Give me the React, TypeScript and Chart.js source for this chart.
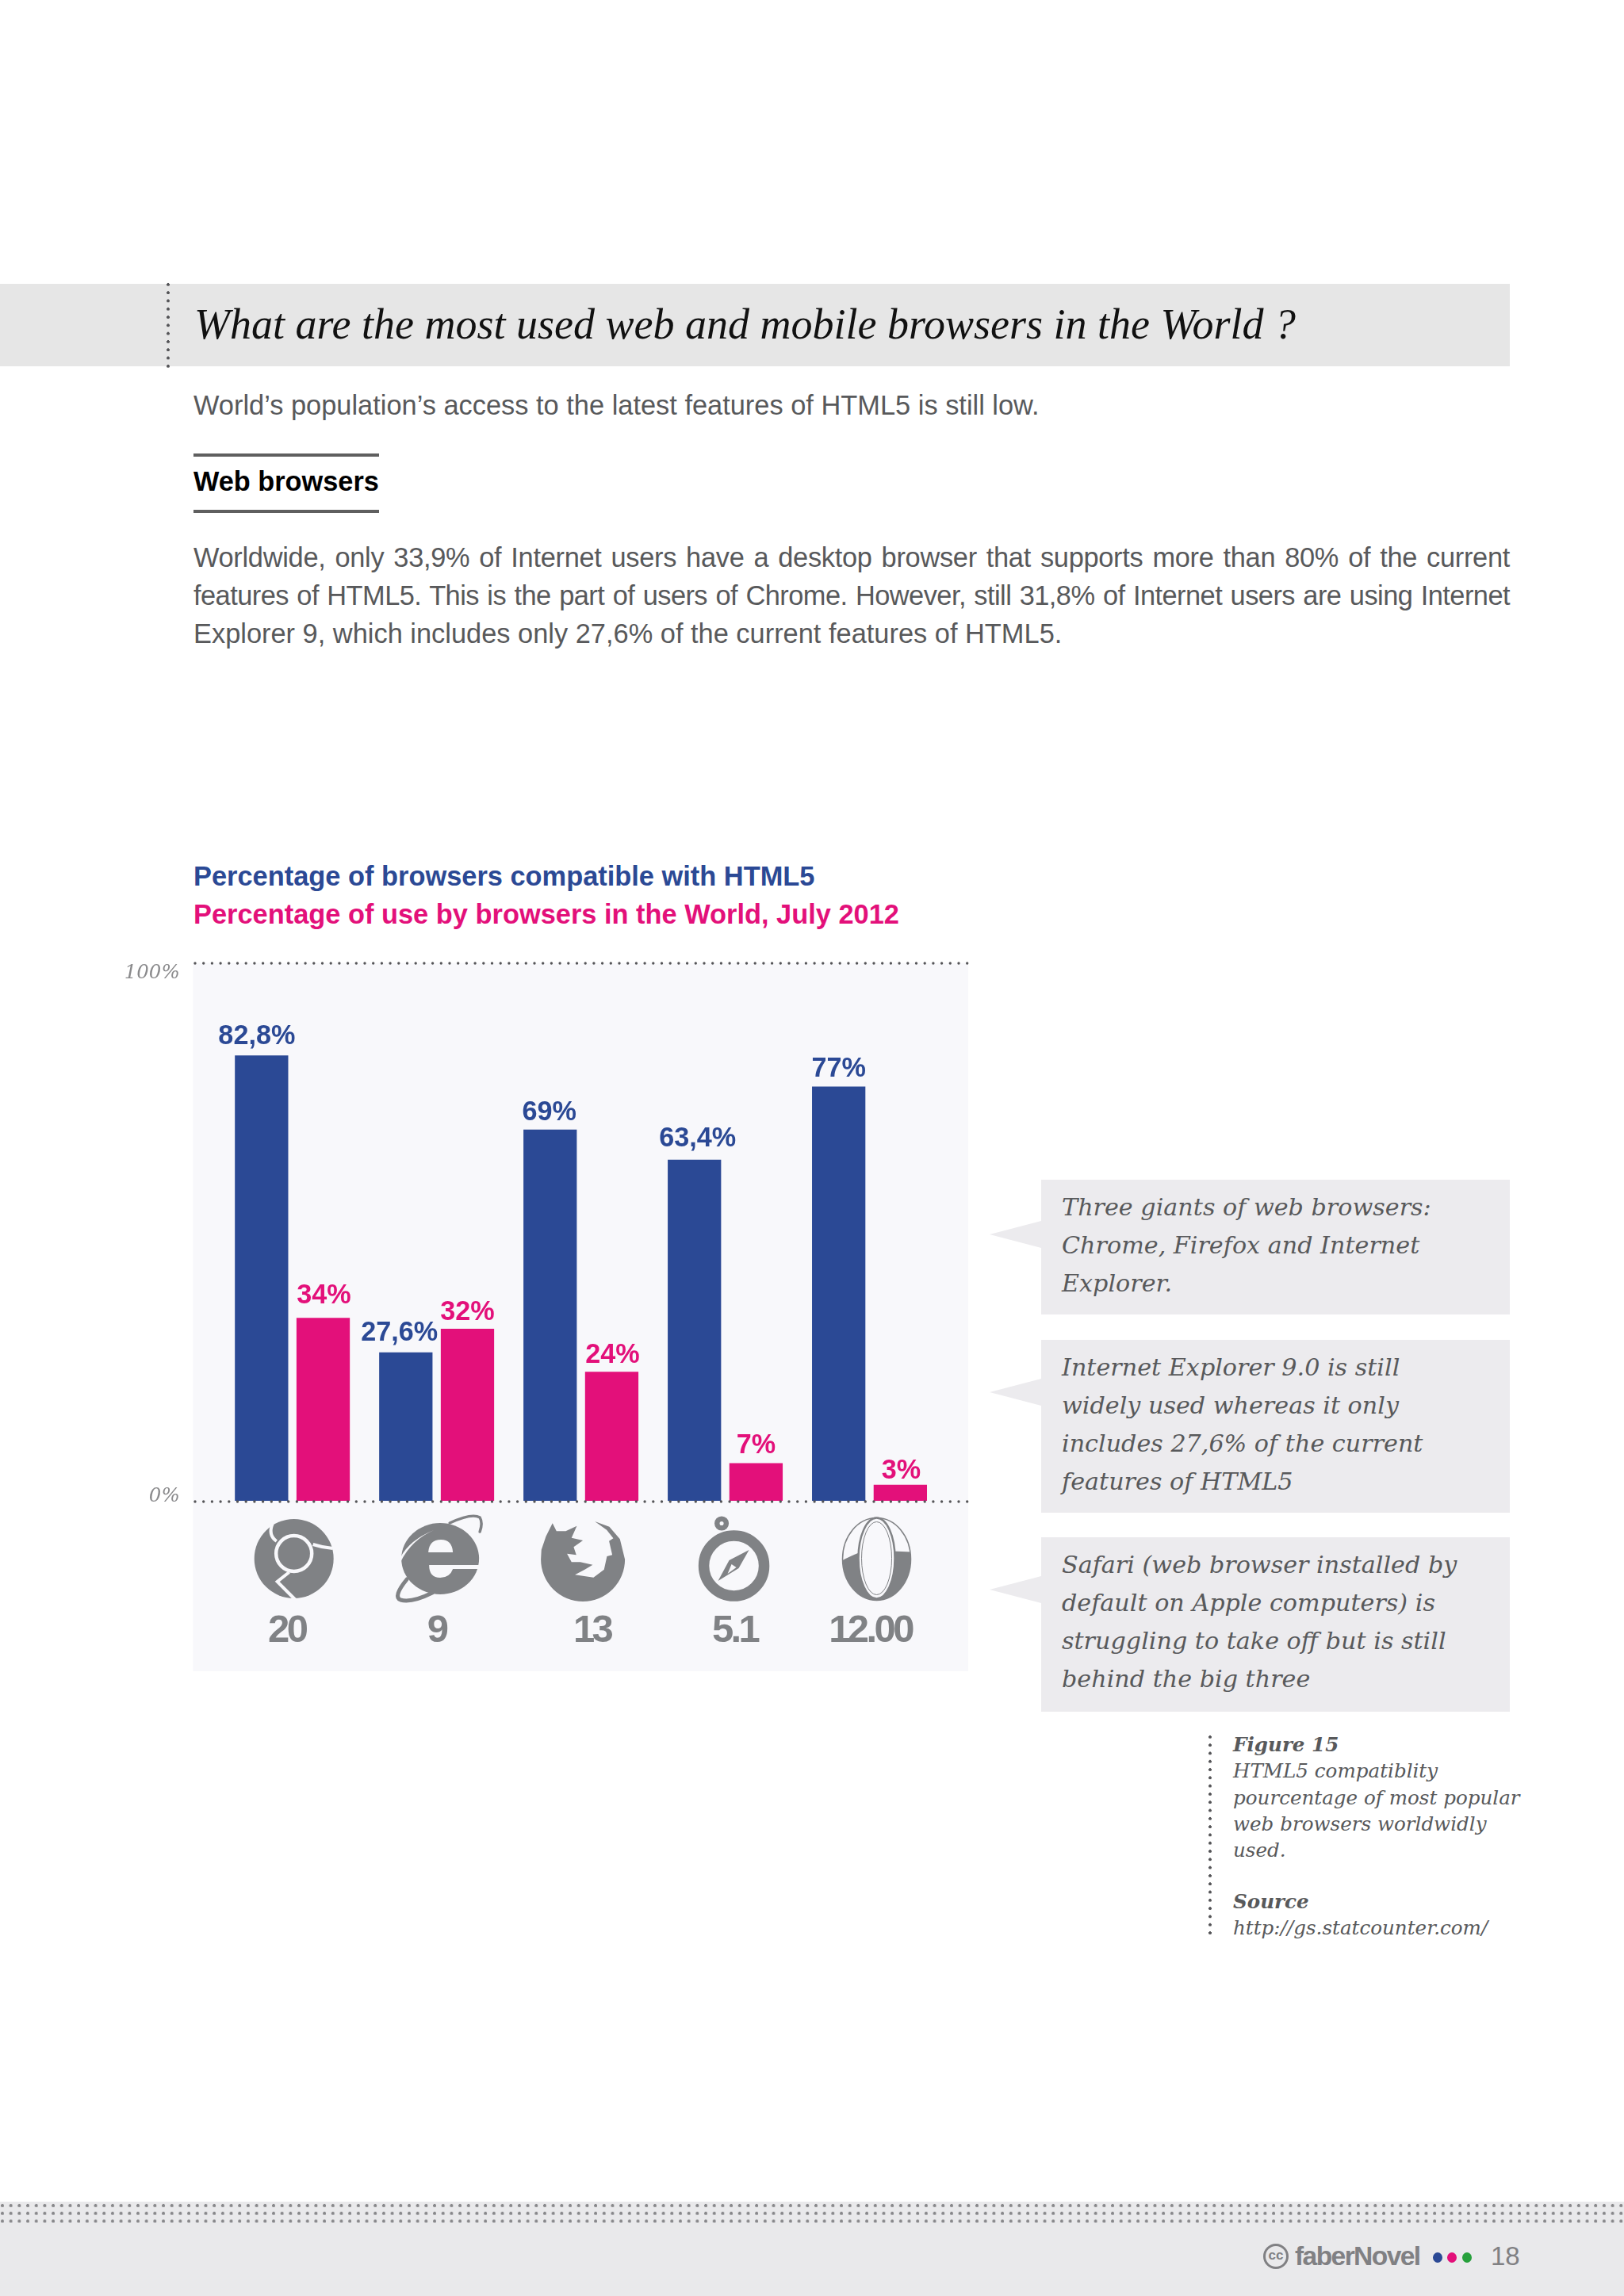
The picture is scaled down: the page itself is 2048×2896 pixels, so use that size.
import React, { useEffect, useRef } from "react";
import { Chart, registerables, CategoryScale } from "chart.js";

const versions = ["20", "9", "13", "5.1", "12.00"];
const browsers = ["Chrome", "Internet Explorer", "Firefox", "Safari", "Opera"];
const html5Support = [82.8, 27.6, 69, 63.4, 77];
const worldUsage = [34, 32, 24, 7, 3];
const html5Labels = ["82,8%", "27,6%", "69%", "63,4%", "77%"];
const usageLabels = ["34%", "32%", "24%", "7%", "3%"];
const legendCompat = "Percentage of browsers compatible with HTML5";
const legendUsage = "Percentage of use by browsers in the World, July 2012";

const BLUE = "#2b4995";
const PINK = "#e3107a";
const GREY = "#808285";
const PANEL = "#f8f8fb";
const BODY = "#58595b";

const versionNudge = [-7, 0, 14, 12, 1];
const html5Nudge = [-6, -8, -1, 4, 0];
const usageNudge = [1, 0, 1, 0, 1];
const html5Lift = [2, 2, 5, 0, 4];
const usageLift = [-2, 6, 5, 4, 9];

class NudgedCategory extends (CategoryScale as any) {
  static id = "nudgedCategory";
  static defaults = (CategoryScale as any).defaults;
  _computeLabelItems(area: any) {
    const items = super._computeLabelItems(area);
    items.forEach((it: any, i: number) => {
      it.options.translation = [it.options.translation[0] + (versionNudge[i] || 0), it.options.translation[1]];
    });
    return items;
  }
  drawLabels(area: any) {
    const c = (this as any).ctx;
    c.save();
    c.letterSpacing = "-3.6px";
    super.drawLabels(area);
    c.restore();
  }
}
Chart.register(...registerables, NudgedCategory as any);

function poly(c: any, pts: number[][], cont = false) {
  pts.forEach((p, i) => (i || cont ? c.lineTo(p[0], p[1]) : c.moveTo(p[0], p[1])));
}

function drawChrome(c: any, x: number, y: number) {
  c.fillStyle = GREY;
  c.beginPath(); c.arc(x, y, 50, 0, Math.PI * 2); c.fill();
  c.strokeStyle = PANEL; c.lineWidth = 4.5;
  c.beginPath(); c.arc(x, y - 6.5, 22.5, 0, Math.PI * 2); c.stroke();
  c.lineWidth = 4;
  c.beginPath(); c.moveTo(x - 22, y - 22); c.quadraticCurveTo(x - 33, y - 30, x - 27, y - 44); c.stroke();
  c.beginPath(); c.moveTo(x + 24, y - 18); c.quadraticCurveTo(x + 36, y - 14, x + 49, y - 13); c.stroke();
  c.beginPath(); c.moveTo(x - 6, y + 17); c.lineTo(x - 21, y + 29); c.lineTo(x + 2, y + 52); c.stroke();
}

function drawIE(c: any, x: number, y: number) {
  c.fillStyle = GREY;
  c.beginPath(); c.ellipse(x, y, 49, 45, 0, 0, Math.PI * 2); c.fill();
  c.fillStyle = PANEL;
  c.beginPath(); c.moveTo(x - 15, y - 8); c.quadraticCurveTo(x - 14, y - 24, x + 1, y - 24);
  c.quadraticCurveTo(x + 15, y - 24, x + 16, y - 8); c.closePath(); c.fill();
  c.beginPath(); c.moveTo(x - 14, y + 8); c.lineTo(x + 50, y + 8); c.lineTo(x + 50, y + 13); c.lineTo(x + 16, y + 13);
  c.quadraticCurveTo(x + 12, y + 24, x, y + 24); c.quadraticCurveTo(x - 14, y + 24, x - 14, y + 8); c.fill();
  c.beginPath(); c.moveTo(x - 8, y - 36); c.quadraticCurveTo(x - 38, y - 24, x - 50, y - 2);
  c.lineTo(x - 50, y + 4); c.quadraticCurveTo(x - 36, y - 24, x - 8, y - 36); c.fill();
  c.strokeStyle = GREY; c.lineWidth = 3.5; c.lineCap = "round";
  c.beginPath(); c.moveTo(x + 12, y - 45); c.quadraticCurveTo(x + 40, y - 58, x + 50, y - 52); c.quadraticCurveTo(x + 54, y - 45, x + 50, y - 34); c.stroke();
  c.lineWidth = 5;
  c.beginPath(); c.moveTo(x - 42, y + 26); c.quadraticCurveTo(x - 60, y + 48, x - 50, y + 52); c.quadraticCurveTo(x - 36, y + 56, x - 10, y + 43); c.stroke();
  c.lineCap = "butt";
}

function drawFox(c: any, x: number, y: number) {
  const z = (a: number, b: number) => [x + (a - 1305) / 3, y + (b - 262) / 3];
  c.fillStyle = GREY;
  c.beginPath();
  poly(c, [z(1190, 125), z(1165, 175), z(1148, 225)]);
  c.arc(x, y, 53, Math.PI, 0, true);
  poly(c, [z(1445, 185), z(1405, 138), z(1350, 118), z(1395, 150), z(1420, 182), z(1404, 192), z(1416, 245), z(1396, 250),
    z(1385, 300), z(1345, 330), z(1275, 320), z(1312, 300), z(1342, 282), z(1295, 272), z(1262, 272), z(1245, 240), z(1280, 245),
    z(1270, 215), z(1305, 190), z(1262, 180), z(1282, 135), z(1240, 155), z(1205, 155)], true);
  c.closePath(); c.fill();
}

function drawSafari(c: any, x: number, y: number) {
  c.strokeStyle = GREY; c.lineWidth = 13.5;
  c.beginPath(); c.arc(x, y, 38, 0, Math.PI * 2); c.stroke();
  c.lineWidth = 6.5;
  c.beginPath(); c.arc(x - 15.5, y - 53.5, 5.8, 0, Math.PI * 2); c.stroke();
  c.fillStyle = GREY;
  c.beginPath();
  poly(c, [[x + 19, y - 20], [x + 6, y + 3], [x - 20, y + 19], [x - 6, y - 7]]);
  c.closePath(); c.fill();
  c.fillStyle = PANEL;
  c.beginPath();
  poly(c, [[x - 3, y - 2], [x + 3, y + 2], [x - 8, y + 10]]);
  c.closePath(); c.fill();
}

function drawOpera(c: any, x: number, y: number) {
  c.save();
  c.beginPath(); c.ellipse(x, y, 43, 52, 0, 0, Math.PI * 2);
  c.strokeStyle = GREY; c.lineWidth = 1.5; c.stroke();
  c.clip();
  c.fillStyle = GREY;
  c.beginPath();
  c.moveTo(x - 44, y + 2);
  c.quadraticCurveTo(x - 25, y - 8, x - 18, y - 9);
  c.lineTo(x + 20, y - 10);
  c.lineTo(x + 44, y - 9);
  c.lineTo(x + 44, y + 55); c.lineTo(x - 44, y + 55); c.closePath(); c.fill();
  c.restore();
  c.fillStyle = PANEL; c.strokeStyle = GREY;
  c.beginPath(); c.ellipse(x, y - 1, 23, 51, 0, 0, Math.PI * 2); c.fill();
  c.lineWidth = 2.5; c.stroke();
  c.lineWidth = 1;
  c.beginPath(); c.ellipse(x, y - 1, 19, 46, 0, 0, Math.PI * 2); c.stroke();
}

const iconDrawers = [drawChrome, drawIE, drawFox, drawSafari, drawOpera];
const iconNudge = [[2, 73], [4.5, 73], [2.5, 74], [11, 82], [9, 73.5]];

const pagePlugin = {
  id: "page",
  beforeDraw(chart: any) {
    const { ctx: c, scales } = chart;
    const top = scales.y.getPixelForValue(100);
    c.save();
    c.fillStyle = PANEL;
    c.fillRect(243.5, top, 977.5, scales.x.bottom - top);
    c.restore();
  },
  afterDatasetsDraw(chart: any) {
    const { ctx: c, scales } = chart;
    c.save();
    c.strokeStyle = "#555558";
    c.lineWidth = 3.4;
    c.lineCap = "round";
    c.setLineDash([0, 10.7]);
    [0, 100].forEach((v) => {
      const yy = scales.y.getPixelForValue(v) + (v === 0 ? 1 : 0.5);
      c.beginPath(); c.moveTo(246, yy); c.lineTo(1221, yy); c.stroke();
    });
    c.restore();

    c.save();
    c.font = "bold 34.2px 'Liberation Sans'";
    c.textAlign = "center";
    c.textBaseline = "middle";
    const sets = [
      { labels: html5Labels, nudge: html5Nudge, lift: html5Lift, colour: BLUE },
      { labels: usageLabels, nudge: usageNudge, lift: usageLift, colour: PINK },
    ];
    sets.forEach((s, d) => {
      chart.getDatasetMeta(d).data.forEach((bar: any, i: number) => {
        c.fillStyle = s.colour;
        c.fillText(s.labels[i], bar.x + s.nudge[i], bar.y - 26 + s.lift[i]);
      });
    });
    c.restore();
  },
  afterDraw(chart: any) {
    const { ctx: c, scales } = chart;
    const base = scales.y.getPixelForValue(0);
    browsers.forEach((_, i) => {
      const n = iconNudge[i];
      c.save();
      iconDrawers[i](c, scales.x.getPixelForValue(i) + n[0], base + n[1]);
      c.restore();
    });
  },
};

const serif = "'DejaVu Serif', serif";
const sans = "'Liberation Sans', sans-serif";

function T(props: any) {
  const { x, y, w, just, size, color, font, bold, italic, ls, children } = props;
  const style: any = {
    position: "absolute",
    left: x,
    top: y - size,
    lineHeight: size * 2 + "px",
    fontSize: size,
    color: color || BODY,
    fontFamily: font || sans,
    fontWeight: bold ? 700 : 400,
    fontStyle: italic ? "italic" : "normal",
    whiteSpace: "nowrap",
    letterSpacing: ls || 0,
  };
  if (w) style.width = w;
  if (just) {
    style.whiteSpace = "normal";
    style.textAlignLast = "justify";
  }
  return <div style={style}>{children}</div>;
}

function Box(props: any) {
  const { x, y, w, h, bg } = props;
  return <div style={{ position: "absolute", left: x, top: y, width: w, height: h, background: bg }} />;
}

function Vdots(props: any) {
  const { x, y, h, step } = props;
  return (
    <div
      style={{
        position: "absolute",
        left: x - 3,
        top: y,
        width: 6,
        height: h,
        backgroundImage: "radial-gradient(circle at 3px 3px, #555558 1.7px, transparent 2.1px)",
        backgroundSize: `6px ${step}px`,
      }}
    />
  );
}

const CAPTION = 30.2;

function Callout(props: any) {
  const { y, h, tip, lines } = props;
  return (
    <>
      <div style={{ position: "absolute", left: 1313, top: y, width: 591, height: h, background: "#ecebee" }} />
      <div
        style={{
          position: "absolute",
          left: 1248,
          top: tip - 17,
          width: 65,
          height: 34,
          background: "#ecebee",
          clipPath: "polygon(0 50%, 100% 0, 100% 100%)",
        }}
      />
      {lines.map((l: string, i: number) => (
        <T key={i} x={1339} y={y + 35 + i * 48} size={CAPTION} font={serif} italic>
          {l}
        </T>
      ))}
    </>
  );
}

export default function App() {
  const ref = useRef<HTMLCanvasElement>(null);
  useEffect(() => {
    const chart = new Chart(ref.current as any, {
      type: "bar",
      data: {
        labels: versions,
        datasets: [
          { label: legendCompat, data: html5Support, backgroundColor: BLUE, categoryPercentage: 0.854, barPercentage: 0.866 },
          { label: legendUsage, data: worldUsage, backgroundColor: PINK, categoryPercentage: 0.854, barPercentage: 0.866 },
        ],
      },
      options: {
        animation: false,
        responsive: false,
        layout: { padding: { top: 1214.5, bottom: 788, left: 0, right: 860.5 } },
        plugins: { legend: { display: false }, title: { display: false }, tooltip: { enabled: false } },
        scales: {
          x: {
            type: "nudgedCategory",
            grid: { display: false, drawTicks: false },
            border: { display: false },
            afterFit: (s: any) => { s.height = 215; },
            ticks: {
              autoSkip: false,
              maxRotation: 0,
              padding: 140,
              color: GREY,
              font: { family: "'Liberation Sans'", weight: "bold", size: 49, lineHeight: 1 },
            },
          },
          y: {
            min: 0,
            max: 100,
            grid: { display: false, drawTicks: false },
            border: { display: false },
            afterFit: (s: any) => { s.width = 277.7; },
            ticks: {
              stepSize: 100,
              padding: 51,
              color: "#8a8a8c",
              callback: (v: any) => (v === 100 ? ["", "100%"] : ["0%", ""]),
              font: (ctx: any) => ({
                family: "'DejaVu Serif'",
                style: "italic",
                size: 24.5,
                lineHeight: ctx.tick && ctx.tick.value === 100 ? "26px" : "10px",
              }),
            },
          },
        },
      } as any,
      plugins: [pagePlugin as any],
    });
    return () => chart.destroy();
  }, []);

  return (
    <div style={{ position: "absolute", left: 0, top: 0, width: 2048, height: 2896, overflow: "hidden", background: "#fff" }}>
      <Box x={0} y={358} w={1904} h={104} bg="#e6e6e6" />
      <Vdots x={212} y={356} h={108} step={10.3} />
      <T x={245} y={409} size={54} font="'Liberation Serif', serif" italic color="#111">
        What are the most used web and mobile browsers in the World ?
      </T>
      <T x={244} y={511} size={34.4}>World’s population’s access to the latest features of HTML5 is still low.</T>
      <Box x={244} y={572} w={234} h={4} bg="#5f5f5f" />
      <T x={244} y={607} size={34.3} bold color="#000">Web browsers</T>
      <Box x={244} y={643} w={234} h={4} bg="#5f5f5f" />
      <T x={244} y={703} w={1660} just size={34.4} ls="-0.3px">Worldwide, only 33,9% of Internet users have a desktop browser that supports more than 80% of the current</T>
      <T x={244} y={751} w={1660} just size={34.4} ls="-0.55px">features of HTML5. This is the part of users of Chrome. However, still 31,8% of Internet users are using Internet</T>
      <T x={244} y={799} size={34.4}>Explorer 9, which includes only 27,6% of the current features of HTML5.</T>

      <T x={244} y={1105} size={34.4} bold color={BLUE}>{legendCompat}</T>
      <T x={244} y={1153} size={34.4} bold color={PINK}>{legendUsage}</T>

      <Callout y={1488} h={170} tip={1557} lines={["Three giants of web browsers:", "Chrome, Firefox and Internet", "Explorer."]} />
      <Callout y={1690} h={218} tip={1756} lines={["Internet Explorer 9.0 is still", "widely used whereas it only", "includes 27,6% of the current", "features of HTML5"]} />
      <Callout y={1939} h={220} tip={2005} lines={["Safari (web browser installed by", "default on Apple computers) is", "struggling to take off but is still", "behind the big three"]} />

      <Vdots x={1526} y={2188} h={258} step={10.3} />
      <T x={1555} y={2201} size={24.6} font={serif} italic bold>Figure 15</T>
      <T x={1555} y={2234} size={24.6} font={serif} italic>HTML5 compatiblity</T>
      <T x={1555} y={2268} size={24.6} font={serif} italic>pourcentage of most popular</T>
      <T x={1555} y={2301} size={24.6} font={serif} italic>web browsers worldwidly</T>
      <T x={1555} y={2334} size={24.6} font={serif} italic>used.</T>
      <T x={1555} y={2399} size={24.6} font={serif} italic bold>Source</T>
      <T x={1555} y={2432} size={24.6} font={serif} italic>http://gs.statcounter.com/</T>

      <Box x={0} y={2777} w={2048} h={119} bg="#e9e9eb" />
      <div
        style={{
          position: "absolute",
          left: 0,
          top: 2777,
          width: 2048,
          height: 30,
          backgroundImage: "radial-gradient(circle at 3px 5px, #88888b 1.8px, transparent 2.3px)",
          backgroundSize: "10.7px 9.8px",
        }}
      />
      <div
        style={{
          position: "absolute",
          left: 1593,
          top: 2830,
          width: 26,
          height: 26,
          border: "3.5px solid #808083",
          borderRadius: "50%",
          color: "#808083",
          fontFamily: sans,
          fontWeight: 700,
          fontSize: 17,
          lineHeight: "24px",
          textAlign: "center",
        }}
      >
        cc
      </div>
      <T x={1633} y={2846} size={33.6} bold color="#808083" ls="-1.6px">faberNovel</T>
      {[
        [1812.5, "#2b4995"],
        [1831, "#e3107a"],
        [1850, "#27a03c"],
      ].map(([x, col]: any) => (
        <div key={x} style={{ position: "absolute", left: x - 6, top: 2841, width: 12, height: 13, borderRadius: "50%", background: col }} />
      ))}
      <T x={1880} y={2846} size={33} color="#808083">18</T>

      <canvas ref={ref} width={2048} height={2896} style={{ position: "absolute", left: 0, top: 0, display: "block" }} />
    </div>
  );
}
